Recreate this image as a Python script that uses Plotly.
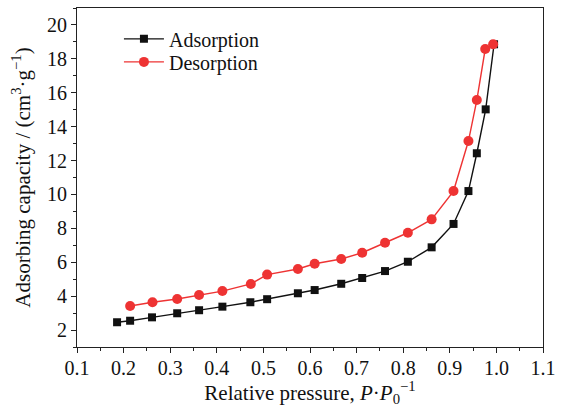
import plotly.graph_objects as go

ads_x = [0.186, 0.214, 0.261, 0.315, 0.362, 0.412, 0.472, 0.508, 0.574, 0.610,
         0.667, 0.712, 0.761, 0.810, 0.861, 0.908, 0.940, 0.958, 0.977, 0.995]
ads_y = [2.46, 2.55, 2.75, 2.99, 3.17, 3.38, 3.64, 3.82, 4.17, 4.36,
         4.73, 5.07, 5.48, 6.03, 6.88, 8.26, 10.20, 12.43, 15.02, 18.86]

des_x = [0.214, 0.262, 0.315, 0.362, 0.412, 0.473, 0.508, 0.574, 0.610, 0.667,
         0.712, 0.761, 0.810, 0.861, 0.908, 0.940, 0.958, 0.976, 0.993]
des_y = [3.42, 3.64, 3.83, 4.07, 4.30, 4.72, 5.27, 5.60, 5.91, 6.19,
         6.56, 7.15, 7.74, 8.53, 10.20, 13.15, 15.57, 18.58, 18.86]

x_ticks = [0.1, 0.2, 0.3, 0.4, 0.5, 0.6, 0.7, 0.8, 0.9, 1.0, 1.1]
x_tick_labels = ["0.1", "0.2", "0.3", "0.4", "0.5", "0.6", "0.7", "0.8", "0.9", "1.0", "1.1"]
y_ticks = [2, 4, 6, 8, 10, 12, 14, 16, 18, 20]

font_family = "Liberation Serif, Times New Roman, serif"

fig = go.Figure()
fig.add_trace(go.Scatter(
    x=ads_x, y=ads_y, mode="lines+markers", name="Adsorption",
    line=dict(color="#111111", width=1.4),
    marker=dict(symbol="square", size=8, color="#111111"),
    legend="legend",
))
fig.add_trace(go.Scatter(
    x=des_x, y=des_y, mode="lines+markers", name="Desorption",
    line=dict(color="#ee3333", width=1.4),
    marker=dict(symbol="circle", size=10, color="#ee3333"),
    legend="legend2",
))

axis_common = dict(
    showline=True, linecolor="#222222", linewidth=1.2, mirror=True,
    ticks="outside", ticklen=5, tickwidth=1.2, tickcolor="#222222",
    showgrid=False, zeroline=False,
    tickfont=dict(family=font_family, size=20, color="#111111"),
)

fig.update_xaxes(
    range=[0.1, 1.1], tickvals=x_ticks, ticktext=x_tick_labels,
    minor=dict(dtick=0.05, ticks="outside", ticklen=3, tickwidth=1.2, tickcolor="#222222"),
    ticklabelstandoff=-2,
    title=dict(text="Relative pressure, <i>P</i>·<i>P</i><sub>0</sub><sup>−1</sup>",
               font=dict(family=font_family, size=21, color="#111111"), standoff=1),
    **axis_common,
)
fig.update_yaxes(
    range=[1, 21], tickvals=y_ticks,
    minor=dict(dtick=1, ticks="outside", ticklen=3, tickwidth=1.2, tickcolor="#222222"),
    title=dict(text="Adsorbing capacity / (cm<sup>3</sup>·g<sup>−1</sup>)",
               font=dict(family=font_family, size=21, color="#111111"), standoff=10),
    **axis_common,
)

legend_common = dict(
    xanchor="left", yanchor="middle",
    bgcolor="rgba(0,0,0,0)", borderwidth=0,
    font=dict(family=font_family, size=20, color="#111111"),
    itemwidth=40,
)

fig.update_layout(
    width=566, height=407,
    margin=dict(l=77, r=23, t=8, b=60),
    paper_bgcolor="white", plot_bgcolor="white",
    showlegend=True,
    legend=dict(x=0.09, y=0.909, **legend_common),
    legend2=dict(x=0.09, y=0.841, **legend_common),
)

fig.write_html("out.html")
